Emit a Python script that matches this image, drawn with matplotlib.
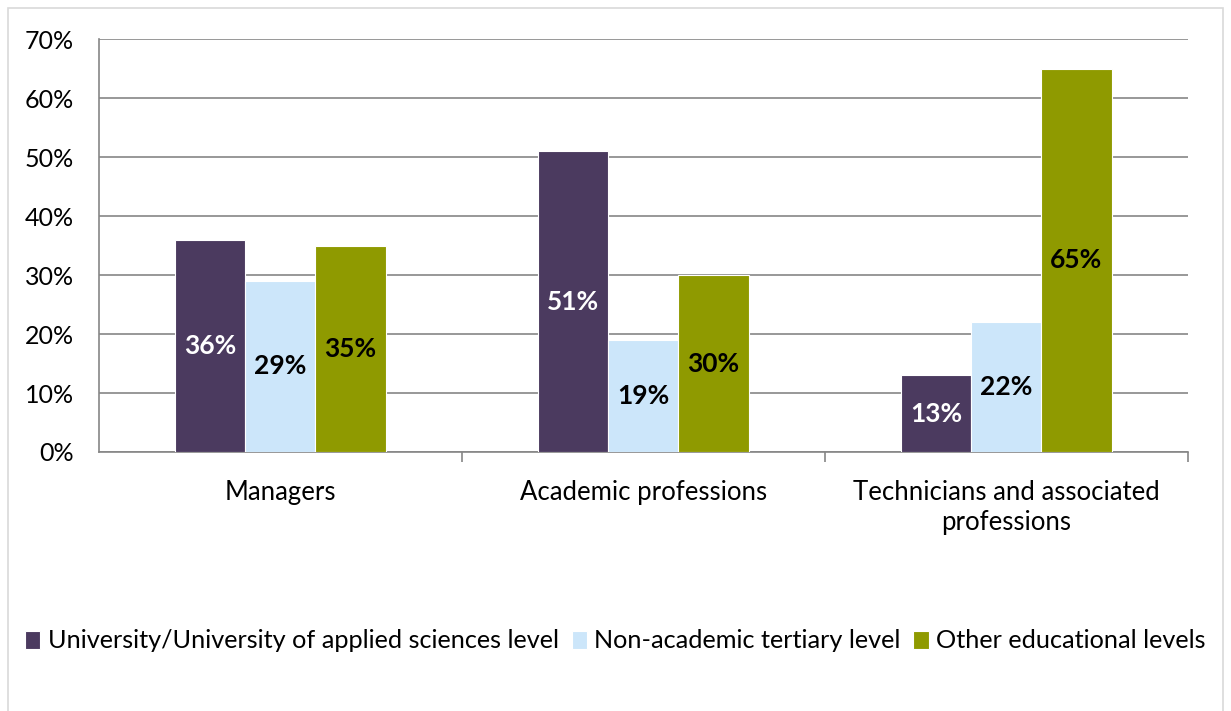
import matplotlib.pyplot as plt
import numpy as np
from matplotlib.patches import Rectangle

plt.rcParams['font.family'] = ['Lato', 'DejaVu Sans']

# data
categories = ['Managers', 'Academic professions', 'Technicians and associated\nprofessions']
series_names = ['University/University of applied sciences level',
                'Non-academic tertiary level',
                'Other educational levels']
university = [36, 51, 13]
non_academic = [29, 19, 22]
other = [35, 30, 65]

colors = ['#4B3A5F', '#CCE6FA', '#8F9A00']
label_colors = ['white', 'black', 'black']

fig = plt.figure(figsize=(12.31, 7.11), dpi=100)
ax = fig.add_axes([0.0804, 0.3643, 0.8846, 0.5807])

x = np.arange(len(categories))
w = 0.193
for i, (vals, name) in enumerate(zip([university, non_academic, other], series_names)):
    pos = x + (i - 1) * w
    bars = ax.bar(pos, vals, w, color=colors[i], edgecolor='white', linewidth=0.8,
                  label=name, zorder=3)
    for b, v in zip(bars, vals):
        ax.text(b.get_x() + b.get_width() / 2, v / 2, f'{v}%', ha='center', va='center',
                fontsize=19, fontweight='bold', color=label_colors[i], zorder=4)

ax.set_xlim(-0.5, 2.5)
ax.set_ylim(0, 70)
ax.set_yticks(range(0, 71, 10))
ax.set_yticklabels([f'{t}%' for t in range(0, 71, 10)], fontsize=18)
ax.yaxis.grid(True, color='#868686', linewidth=1.2, zorder=0)
ax.tick_params(axis='y', length=0, pad=18)

ax.set_xticks(x)
ax.set_xticklabels(categories, fontsize=18.5, linespacing=1.25)
ax.tick_params(axis='x', length=0, pad=20)
ax.set_xticks([0.5, 1.5, 2.5], minor=True)
ax.tick_params(axis='x', which='minor', length=7, color='#868686', width=1.2)

for s in ['top', 'right']:
    ax.spines[s].set_visible(False)
for s in ['left', 'bottom']:
    ax.spines[s].set_color('#868686')
    ax.spines[s].set_linewidth(1.2)

fig.legend(loc='center', bbox_to_anchor=(0.5, 1 - 641 / 711), ncol=3, frameon=False,
           fontsize=18.2, handlelength=0.6, handleheight=0.7, handletextpad=0.3,
           columnspacing=0.5)

fig.patches.append(Rectangle((8 / 1231, -0.01), 1 - 16 / 1231, 1 - 8 / 711 + 0.01,
                             transform=fig.transFigure, fill=False,
                             edgecolor='#D9D9D9', linewidth=1.2))

fig.savefig('out.png', dpi=100)
